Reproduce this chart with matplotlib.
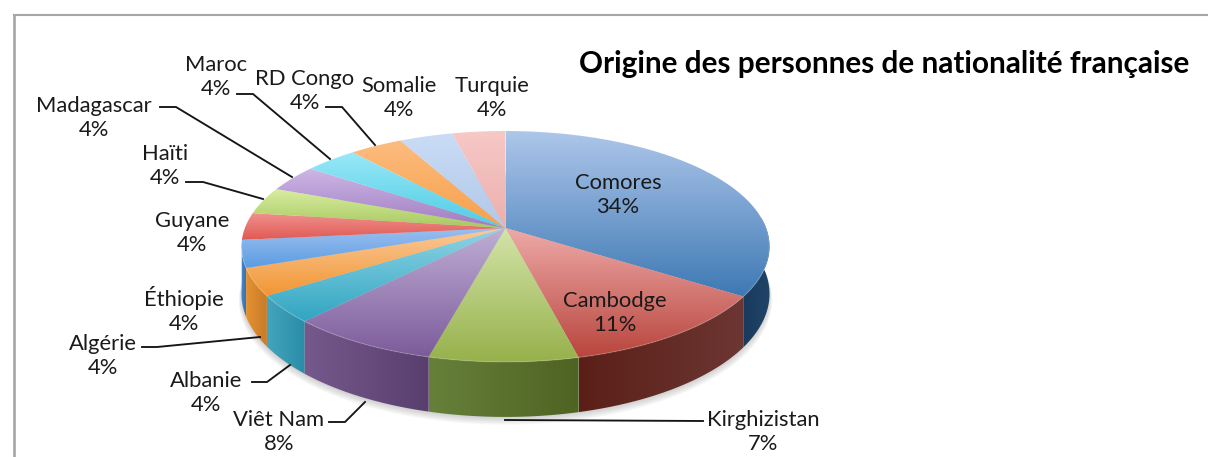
import numpy as np
import matplotlib
matplotlib.use('Agg')
import matplotlib.pyplot as plt
from matplotlib.colors import to_rgb
from matplotlib.path import Path

# donnees (les angles du dessin donnent les parts)
pays = ['Comores', 'Cambodge', 'Kirghizistan', 'Viêt Nam', 'Albanie', 'Algérie', 'Éthiopie',
        'Guyane', 'Haïti', 'Madagascar', 'Maroc', 'RD Congo', 'Somalie', 'Turquie']
parts = [34.3, 11.8, 7.8, 7.9, 3.8, 3.8, 3.8, 3.8, 3.8, 3.8, 3.8, 3.8, 3.8, 3.8]
pourcent = ['34%', '11%', '7%', '8%', '4%', '4%', '4%', '4%', '4%', '4%', '4%', '4%', '4%', '4%']

# couleurs : dessus (haut, bas) et flanc (gauche, droite)
dessus_haut = ['#adc6ea', '#eeaaa8', '#d2e4a8', '#bfaed5', '#8fd4e4', '#fac99a', '#9cc0f0',
               '#f0908c', '#d8eea0', '#cdb8e6', '#98e8f8', '#fcbc80', '#cadcf6', '#f6c8c6']
dessus_bas = ['#3e79b4', '#b9463e', '#97b14c', '#7c5b9a', '#31a6c2', '#f29632', '#5b9ce2',
              '#e05a54', '#a8c860', '#a07cc0', '#50cce4', '#f8a048', '#b0c8e8', '#ecb0ae']
flanc_g = ['#1a3a5c', '#5b1f18', '#66803a', '#76598c', '#44a4bc', '#e49232', '#4a88cc',
           '#c04a44', '#8aa848', '#8060a0', '#30a8c0', '#d88030', '#90a8c8', '#c89090']
flanc_d = ['#1f4468', '#6c3632', '#4f6322', '#583f6e', '#2a8da8', '#c87c28', '#3a70b0',
           '#a03a34', '#708a38', '#684c88', '#2890a8', '#b86c28', '#7890b0', '#a87878']

titre = 'Origine des personnes de nationalité française'

# mise en page, en pixels
cx, cy = 505.5, 228.0
A, B, RX = 112.5, 0.16, 260.6
H = 46.2
pos_labels = [(618, 195), (615, 313), (763, 432), (279, 432), (206, 393), (103, 356), (184, 310),
              (192, 233), (165, 166), (94, 118), (216, 77), (305, 91), (399, 98), (492, 98)]
leaders = [[(237, 94), (253, 94), (330, 159)], [(326, 107), (342, 107), (375, 145)],
           [(160, 107), (176, 107), (292, 177)], [(186, 182), (203, 182), (263, 199)],
           [(142, 347), (157, 347), (260, 337)], [(252, 382), (267, 382), (290, 365)],
           [(329, 422), (345, 422), (365, 402)], [(505, 420), (703, 421)]]


def projette(theta, r=1.0, z=0.0):
    # cercle vu en perspective, theta dans le sens horaire depuis midi
    v = r * np.cos(theta)
    d = 1 + B * v
    return cx + RX * r * np.sin(theta) / d, cy - A * v / d + z * H / d


def degrade(ax, x, y, c1, c2, vertical=True):
    n = 64
    t = np.linspace(0, 1, n)[:, None]
    rgb = (1 - t) * np.array(to_rgb(c1)) + t * np.array(to_rgb(c2))
    img = rgb[:, None, :] if vertical else rgb[None, :, :]
    im = ax.imshow(img, extent=(x.min(), x.max(), y.max(), y.min()), origin='upper',
                   aspect='auto', interpolation='bilinear', zorder=3)
    im.set_clip_path(Path(np.column_stack([x, y])), transform=ax.transData)


fig = plt.figure(figsize=(12.08, 4.57), dpi=100)
ax = fig.add_axes([0, 0, 1, 1])
plt.rcParams['font.family'] = ['Lato', 'DejaVu Sans']

bornes = np.radians(np.concatenate([[0], np.cumsum(parts)]) * 360 / np.sum(parts))

# ombre sous le camembert
t = np.linspace(0, 2 * np.pi, 300)
for k in range(6):
    sx, sy = projette(t, 1.0 + 0.002 * k, 1.0)
    ax.fill(sx, sy + 1 + k, color='#606060', alpha=0.05, lw=0, zorder=1)

# flancs visibles
for i in range(len(parts)):
    a = max(bornes[i], np.pi / 2 - 0.1)
    b = min(bornes[i + 1], 3 * np.pi / 2 - 0.12)
    if b <= a:
        continue
    arc = np.linspace(a, b, 60)
    x1, y1 = projette(arc)
    x2, y2 = projette(arc, z=1.0)
    x = np.concatenate([x1, x2[::-1]])
    y = np.concatenate([y1, y2[::-1]])
    # le gradient du flanc va de la gauche vers la droite
    degrade(ax, x, y, flanc_g[i], flanc_d[i], vertical=False)

# dessus
for i in range(len(parts)):
    arc = np.linspace(bornes[i], bornes[i + 1], 80)
    xa, ya = projette(arc)
    x = np.concatenate([[cx], xa, [cx]])
    y = np.concatenate([[cy], ya, [cy]])
    degrade(ax, x, y, dessus_haut[i], dessus_bas[i])

# petit liseré clair sur le bord avant
arc = np.linspace(np.pi / 2 - 0.1, 3 * np.pi / 2 - 0.12, 200)
xa, ya = projette(arc)
ax.plot(xa, ya, color='white', alpha=0.15, lw=1.0, zorder=4)

# traits de rappel
for pts in leaders:
    ax.plot([p[0] for p in pts], [p[1] for p in pts], color='#151515', lw=1.35, zorder=5,
            solid_joinstyle='miter')

# etiquettes
for nom, pct, (lx, ly) in zip(pays, pourcent, pos_labels):
    ax.text(lx, ly, nom + '\n' + pct, ha='center', va='center', fontsize=15.8, color='#1a1a1a',
            linespacing=1.3, zorder=6)

ax.text(579, 64, titre, ha='left', va='center', fontsize=21.4, fontweight='bold', color='black', zorder=6)

# cadre gris, coupe a droite et en bas
ax.plot([14, 14], [457, 15], color='#a6a6a6', lw=1.9, zorder=2)
ax.plot([14, 1208], [15, 15], color='#a6a6a6', lw=1.5, zorder=2)

ax.set_xlim(0, 1208)
ax.set_ylim(457, 0)
ax.axis('off')

fig.savefig('out.png', dpi=100)
